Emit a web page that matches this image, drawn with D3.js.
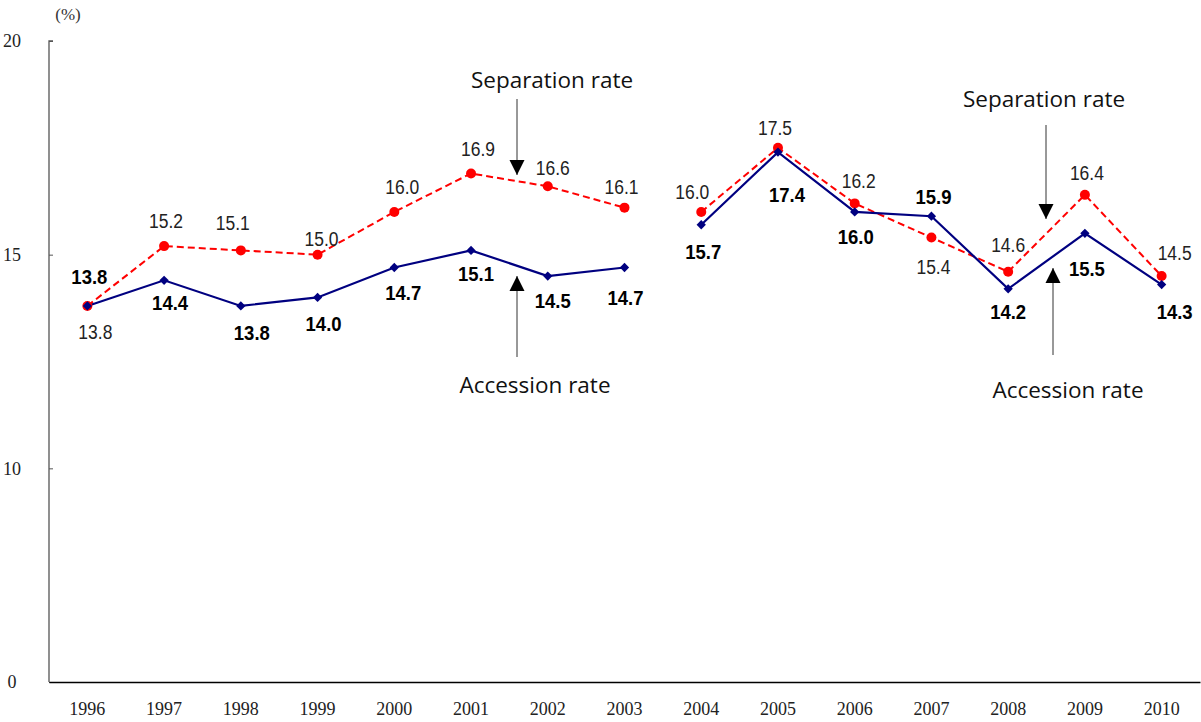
<!DOCTYPE html>
<html>
<head>
<meta charset="utf-8">
<script src="https://cdn.jsdelivr.net/npm/d3@7"></script>
<style>
  body { margin: 0; background: #fff; }
  .tick-serif { font-family: "Liberation Serif", "DejaVu Serif", serif; }
  .val { font-family: "Liberation Sans", Arial, sans-serif; }
  .note { font-family: "Open Sans", "Noto Sans", sans-serif; }
</style>
</head>
<body>
<div id="chart"></div>
<script>
const years = ["1996", "1997", "1998", "1999", "2000", "2001", "2002", "2003",
               "2004", "2005", "2006", "2007", "2008", "2009", "2010"];
const separationRate = [13.8, 15.2, 15.1, 15.0, 16.0, 16.9, 16.6, 16.1,
                        16.0, 17.5, 16.2, 15.4, 14.6, 16.4, 14.5];
const accessionRate = [13.8, 14.4, 13.8, 14.0, 14.7, 15.1, 14.5, 14.7,
                       15.7, 17.4, 16.0, 15.9, 14.2, 15.5, 14.3];
// series is broken between these two periods
const periods = [["1996", "2003"], ["2004", "2010"]];
// y axis is broken: the lowest tick stands for 0
const yTicks = [5, 10, 15, 20];
const yTickLabels = ["0", "10", "15", "20"];

// label placement (dx, dy from point), picked to match the original layout
const sepLabelOffset = [[8, 26], [2, -25], [-8, -28], [4, -16], [8, -25], [7, -25], [5, -18], [-3, -21],
                        [-9, -20], [-3, -20], [4, -23], [2, 29], [0, -27], [2, -22], [13, -23]];
const accLabelOffset = [[2, -30], [6, 22], [11, 26], [6, 26], [9, 25], [5, 23], [5, 24], [1, 30],
                        [2, 27], [9, 42], [1, 25], [2, -20], [0, 23], [2, 35], [13, 27]];

const W = 1201, H = 722;
const margin = { top: 41, right: 1, bottom: 40, left: 49 };

const svg = d3.select("#chart").append("svg")
    .attr("width", W)
    .attr("height", H);

const x = d3.scaleBand()
    .domain(years)
    .range([margin.left, W - margin.right]);

const y = d3.scaleLinear()
    .domain([5, 20])
    .range([H - margin.bottom, margin.top]);

const cx = d => x(d) + x.bandwidth() / 2;

// y axis
const yAxis = svg.append("g")
    .attr("transform", `translate(${margin.left},0)`)
    .call(d3.axisRight(y).tickValues(yTicks).tickSize(4).tickFormat(""));
yAxis.select(".domain").attr("stroke", "#555").attr("stroke-width", 1.3).attr("d", `M4,${y(20)}H0V${y(5)}`);
yAxis.selectAll(".tick line").attr("stroke", "#555");

svg.append("g").selectAll("text")
    .data(yTicks)
    .join("text")
    .attr("class", "tick-serif")
    .attr("x", 12)
    .attr("y", d => y(d))
    .attr("dy", "0.35em")
    .attr("text-anchor", "middle")
    .attr("font-size", 18)
    .attr("fill", "#222")
    .text((d, i) => yTickLabels[i]);

svg.append("text")
    .attr("class", "tick-serif")
    .attr("x", 68)
    .attr("y", 20)
    .attr("text-anchor", "middle")
    .attr("font-size", 17)
    .attr("fill", "#333")
    .text("(%)");

// x axis
const xAxis = svg.append("g")
    .attr("transform", `translate(0,${y(5)})`)
    .call(d3.axisBottom(x).tickSize(0).tickPadding(20));
xAxis.select(".domain").attr("stroke", "#000").attr("stroke-width", 1.3);
xAxis.selectAll(".tick text")
    .attr("class", "tick-serif")
    .attr("font-size", 18)
    .attr("fill", "#222");

// series
const sepData = years.map((yr, i) => ({ year: yr, value: separationRate[i], off: sepLabelOffset[i] }));
const accData = years.map((yr, i) => ({ year: yr, value: accessionRate[i], off: accLabelOffset[i] }));

const line = d3.line()
    .x(d => cx(d.year))
    .y(d => y(d.value));

function segments(data) {
    return periods.map(([a, b]) => data.filter(d => d.year >= a && d.year <= b));
}

svg.append("g").selectAll("path")
    .data(segments(sepData))
    .join("path")
    .attr("fill", "none")
    .attr("stroke", "#ff0000")
    .attr("stroke-width", 2)
    .attr("stroke-dasharray", "7,4")
    .attr("d", line);

svg.append("g").selectAll("path")
    .data(segments(accData))
    .join("path")
    .attr("fill", "none")
    .attr("stroke", "#000080")
    .attr("stroke-width", 2.2)
    .attr("d", line);

svg.append("g").selectAll("circle")
    .data(sepData)
    .join("circle")
    .attr("cx", d => cx(d.year))
    .attr("cy", d => y(d.value))
    .attr("r", 5)
    .attr("fill", "#ff0000");

svg.append("g").selectAll("path")
    .data(accData)
    .join("path")
    .attr("transform", d => `translate(${cx(d.year)},${y(d.value)})`)
    .attr("d", d3.symbol(d3.symbolDiamond2, 55))
    .attr("fill", "#000080");

// value labels
svg.append("g").selectAll("text")
    .data(sepData)
    .join("text")
    .attr("class", "val")
    .attr("x", d => cx(d.year) + d.off[0])
    .attr("y", d => y(d.value) + d.off[1])
    .attr("dy", "0.36em")
    .attr("text-anchor", "middle")
    .attr("font-size", 20)
    .attr("textLength", 34)
    .attr("lengthAdjust", "spacingAndGlyphs")
    .attr("fill", "#222")
    .text(d => d.value.toFixed(1));

svg.append("g").selectAll("text")
    .data(accData)
    .join("text")
    .attr("class", "val")
    .attr("x", d => cx(d.year) + d.off[0])
    .attr("y", d => y(d.value) + d.off[1])
    .attr("dy", "0.36em")
    .attr("text-anchor", "middle")
    .attr("font-size", 21)
    .attr("font-weight", "bold")
    .attr("textLength", 36)
    .attr("lengthAdjust", "spacingAndGlyphs")
    .attr("fill", "#000")
    .text(d => d.value.toFixed(1));

// annotations
const notes = [
    { text: "Separation rate", x: 552, y: 88, ax: 517, y1: 99, y2: 175 },
    { text: "Accession rate", x: 535, y: 393, ax: 517, y1: 357, y2: 276 },
    { text: "Separation rate", x: 1044, y: 107, ax: 1046, y1: 125, y2: 219 },
    { text: "Accession rate", x: 1068, y: 398, ax: 1053, y1: 355, y2: 268 }
];

svg.append("defs").append("marker")
    .attr("id", "head")
    .attr("viewBox", "0 0 10 10")
    .attr("refX", 10)
    .attr("refY", 5)
    .attr("markerUnits", "userSpaceOnUse")
    .attr("markerWidth", 15)
    .attr("markerHeight", 16)
    .attr("orient", "auto")
    .append("path")
    .attr("d", "M0,0L10,5L0,10Z")
    .attr("fill", "#000");

const noteG = svg.append("g").selectAll("g")
    .data(notes)
    .join("g");

noteG.append("line")
    .attr("x1", d => d.ax)
    .attr("x2", d => d.ax)
    .attr("y1", d => d.y1)
    .attr("y2", d => d.y2)
    .attr("stroke", "#333")
    .attr("stroke-width", 1)
    .attr("marker-end", "url(#head)");

noteG.append("text")
    .attr("class", "note")
    .attr("x", d => d.x)
    .attr("y", d => d.y)
    .attr("text-anchor", "middle")
    .attr("font-size", 22.5)
    .attr("fill", "#111")
    .text(d => d.text);
</script>
</body>
</html>
